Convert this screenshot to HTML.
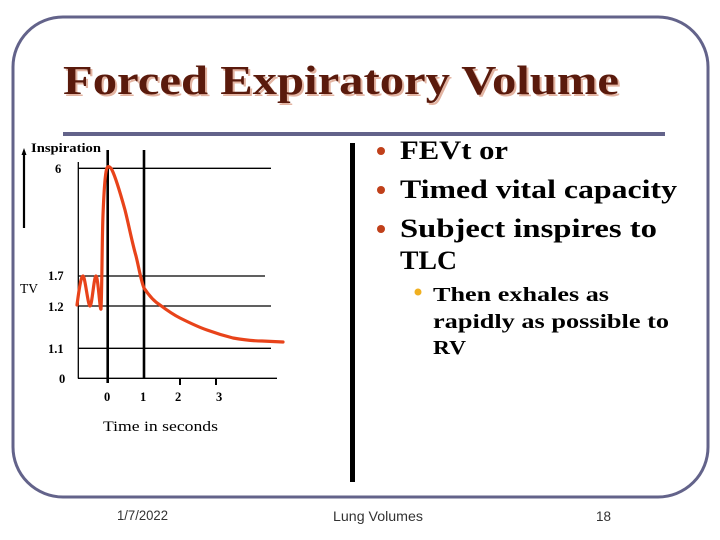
<!DOCTYPE html>
<html><head><meta charset="utf-8">
<style>
html,body{margin:0;padding:0;background:#fff;}
svg{display:block;}
</style></head>
<body>
<svg width="720" height="540" viewBox="0 0 720 540" xmlns="http://www.w3.org/2000/svg">
<rect x="0" y="0" width="720" height="540" fill="#fff"/>
<!-- border -->
<rect x="13" y="17" width="695" height="480" rx="50" ry="50" fill="none" stroke="#63638a" stroke-width="3"/>
<!-- title -->
<text x="65" y="96" font-family="Liberation Serif, serif" font-weight="bold" font-size="41" fill="#e3b4a2" textLength="556" lengthAdjust="spacingAndGlyphs">Forced Expiratory Volume</text>
<text x="63" y="94" font-family="Liberation Serif, serif" font-weight="bold" font-size="41" fill="#5a1a0c" textLength="556" lengthAdjust="spacingAndGlyphs">Forced Expiratory Volume</text>
<!-- rule -->
<rect x="63" y="132" width="602" height="4" fill="#63638a"/>
<!-- thick vertical bar -->
<rect x="350" y="143" width="5" height="339" fill="#000"/>
<!-- bullets -->
<g fill="#c0401a">
<circle cx="381" cy="151" r="4"/>
<circle cx="381" cy="190" r="4"/>
<circle cx="381" cy="229" r="4"/>
</g>
<circle cx="418" cy="292" r="3.5" fill="#f0b020"/>
<g font-family="Liberation Serif, serif" font-weight="bold" fill="#000">
<text x="400" y="159" font-size="26" textLength="108" lengthAdjust="spacingAndGlyphs">FEVt or</text>
<text x="400" y="198" font-size="26" textLength="277" lengthAdjust="spacingAndGlyphs">Timed vital capacity</text>
<text x="400" y="237" font-size="26" textLength="257" lengthAdjust="spacingAndGlyphs">Subject inspires to</text>
<text x="400" y="269" font-size="26" textLength="57" lengthAdjust="spacingAndGlyphs">TLC</text>
<text x="433" y="301" font-size="20" textLength="176" lengthAdjust="spacingAndGlyphs">Then exhales as</text>
<text x="433" y="328" font-size="20" textLength="236" lengthAdjust="spacingAndGlyphs">rapidly as possible to</text>
<text x="433" y="354" font-size="20" textLength="33" lengthAdjust="spacingAndGlyphs">RV</text>
</g>
<!-- chart -->
<g stroke="#000" fill="none">
<line x1="78.3" y1="162" x2="78.3" y2="378.5" stroke-width="1.3"/>
<line x1="78" y1="168.3" x2="271" y2="168.3" stroke-width="1.3"/>
<line x1="78" y1="276" x2="265" y2="276" stroke-width="1.3"/>
<line x1="78" y1="306" x2="271" y2="306" stroke-width="1.3"/>
<line x1="78" y1="348.3" x2="271" y2="348.3" stroke-width="1.3"/>
<line x1="78" y1="378.3" x2="277" y2="378.3" stroke-width="1.3"/>
<line x1="107.7" y1="150" x2="107.7" y2="383" stroke-width="2.6"/>
<line x1="144" y1="150" x2="144" y2="378" stroke-width="2.6"/>
<line x1="180" y1="378" x2="180" y2="385" stroke-width="2"/>
<line x1="216" y1="378" x2="216" y2="385" stroke-width="2"/>
<line x1="24" y1="153" x2="24" y2="228" stroke-width="2.2"/>
</g>
<polygon points="24,148 21.5,155 26.5,155" fill="#000"/>
<path d="M77,305 C79,290 81,276 83,276 C85,276 88,306 90,306 C92,306 94,276 96,276 C98,276 100,312 101,309 C102,290 102,240 103,215 C104,190 105,172 107,168 C108,166 110,166 112,170 C116,178 120,192 125,210 C129,226 132,242 136,256 C139,268 141,281 144,288 C150,297 155,302 160,305 C168,311 174,315 180,318 C190,323 198,327 207,330 C218,334 225,336 233,338 C245,340 255,341 262,341 L283,342" fill="none" stroke="#e8431a" stroke-width="3.2" stroke-linejoin="round" stroke-linecap="round"/>
<g font-family="Liberation Serif, serif" font-weight="bold" font-size="12.5" fill="#000">
<text x="31" y="152" textLength="70" lengthAdjust="spacingAndGlyphs">Inspiration</text>
<text x="55" y="173">6</text>
<text x="48" y="280">1.7</text>
<text x="48" y="311">1.2</text>
<text x="48" y="353">1.1</text>
<text x="59" y="383">0</text>
<text x="104" y="401">0</text>
<text x="140" y="401">1</text>
<text x="175" y="401">2</text>
<text x="216" y="401">3</text>
</g>
<text x="20" y="293" font-family="Liberation Serif, serif" font-size="14" fill="#000" textLength="18" lengthAdjust="spacingAndGlyphs">TV</text>
<text x="103" y="431" font-family="Liberation Serif, serif" font-size="15" fill="#000" textLength="115" lengthAdjust="spacingAndGlyphs">Time in seconds</text>
<!-- footer -->
<g font-family="Liberation Sans, sans-serif" font-size="14" fill="#333">
<text x="117" y="520" textLength="51" lengthAdjust="spacingAndGlyphs">1/7/2022</text>
<text x="333" y="521" textLength="90" lengthAdjust="spacingAndGlyphs">Lung Volumes</text>
<text x="596" y="521" textLength="15" lengthAdjust="spacingAndGlyphs">18</text>
</g>
</svg>
</body></html>
